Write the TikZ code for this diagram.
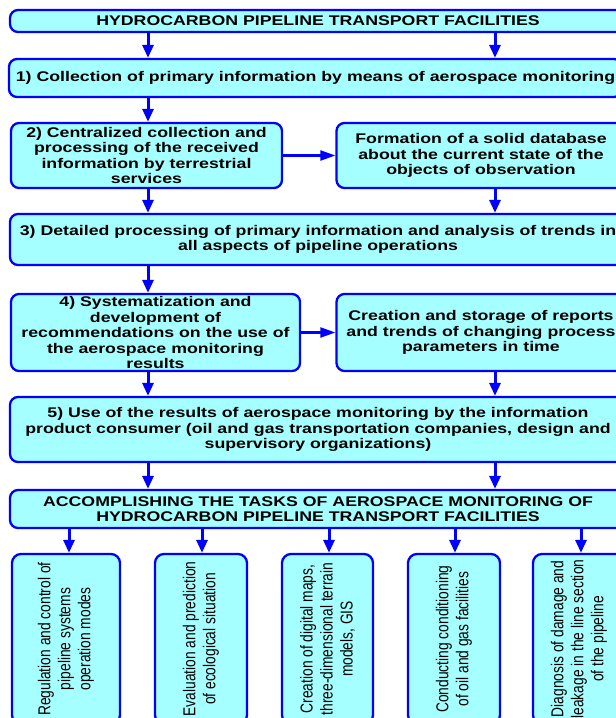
\documentclass[tikz,border=0pt]{standalone}
\usepackage{fontspec}
\setmainfont{Liberation Sans}
\newfontfamily\boxfont{Liberation Sans Bold}[FakeStretch=1.267]
\newfontfamily\rotfont{Liberation Sans}[FakeStretch=0.8]
\usetikzlibrary{arrows.meta}
\definecolor{boxfill}{RGB}{166,255,255}
\definecolor{boxline}{RGB}{0,0,255}
\tikzset{
  box/.style={draw=boxline, fill=boxfill, line width=2.3pt, rounded corners=8pt,
    inner sep=0pt, align=center, text=black,
    font=\boxfont\fontsize{14}{15.5}\selectfont},
  rotbox/.style={draw=boxline, fill=boxfill, line width=2.3pt, rounded corners=9pt,
    inner sep=0pt, align=center, text=black, rotate=90,
    font=\rotfont\fontsize{17.25}{20}\selectfont},
  varr/.style={draw=boxline, line width=3pt, -{Triangle[length=13pt,width=11pt]}},
  harr/.style={draw=boxline, line width=2.2pt, -{Triangle[length=15pt,width=10pt]}}
}
\begin{document}
\begin{tikzpicture}[x=1pt,y=-1pt]
\useasboundingbox (0,0) rectangle (616,718);
\clip (0,0) rectangle (616,718);
\coordinate (L) at (148,0);
\coordinate (R) at (495,0);
\coordinate (xa) at (69,0);
\coordinate (xb) at (202,0);
\coordinate (xc) at (329,0);
\coordinate (xd) at (455,0);
\coordinate (xe) at (581,0);

\node[box, minimum width=616pt, minimum height=22pt] (top) at (318,21)
  {HYDROCARBON PIPELINE TRANSPORT FACILITIES};
\node[box, minimum width=613pt, minimum height=38pt] (b1) at (315.5,78)
  {1) Collection of primary information by means of aerospace monitoring};
\node[box, minimum width=271pt, minimum height=65pt] (b2) at (146.5,155.5)
  {2) Centralized collection and\\processing of the received\\information by terrestrial\\services};
\node[box, minimum width=289pt, minimum height=65pt] (f) at (481,155.5)
  {Formation of a solid database\\about the current state of the\\objects of observation};
\node[box, minimum width=616pt, minimum height=51pt] (b3) at (318,239.5)
  {3) Detailed processing of primary information and analysis of trends in\\all aspects of pipeline operations};
\node[box, minimum width=289pt, minimum height=77pt] (b4) at (155.5,332.5)
  {4) Systematization and\\development of\\recommendations on the use of\\the aerospace monitoring\\results};
\node[box, minimum width=289pt, minimum height=77pt] (c) at (481,332.5)
  {Creation and storage of reports\\and trends of changing process\\parameters in time};
\node[box, minimum width=616pt, minimum height=65pt] (b5) at (318,429.5)
  {5) Use of the results of aerospace monitoring by the information\\product consumer (oil and gas transportation companies, design and\\supervisory organizations)};
\node[box, minimum width=616pt, minimum height=38pt] (acc) at (318,509)
  {ACCOMPLISHING THE TASKS OF AEROSPACE MONITORING OF\\HYDROCARBON PIPELINE TRANSPORT FACILITIES};

\node[rotbox, minimum width=170pt, minimum height=108pt] (A) at (66,639)
  {Regulation and control of\\pipeline systems\\operation modes};
\node[rotbox, minimum width=170pt, minimum height=92pt] (B) at (201,639)
  {Evaluation and prediction\\of ecological situation};
\node[rotbox, minimum width=170pt, minimum height=91pt] (C) at (327.5,639)
  {Creation of digital maps,\\three-dimensional terrain\\models, GIS};
\node[rotbox, minimum width=170pt, minimum height=92pt] (D) at (454,639)
  {Conducting conditioning\\of oil and gas facilities};
\node[rotbox, minimum width=170pt, minimum height=92pt] (E) at (579,639)
  {Diagnosis of damage and\\leakage in the line section\\of the pipeline};

\draw[varr] (top.south -| L) -- (b1.north -| L);
\draw[varr] (top.south -| R) -- (b1.north -| R);
\draw[varr] (b1.south -| L) -- (b2.north -| L);
\draw[harr] (b2.east) -- (f.west);
\draw[varr] (b2.south -| L) -- (b3.north -| L);
\draw[varr] (f.south -| R) -- (b3.north -| R);
\draw[varr] (b3.south -| L) -- (b4.north -| L);
\draw[harr] (b4.east) -- (c.west);
\draw[varr] (b4.south -| L) -- (b5.north -| L);
\draw[varr] (c.south -| R) -- (b5.north -| R);
\draw[varr] (b5.south -| L) -- (acc.north -| L);
\draw[varr] (b5.south -| R) -- (acc.north -| R);
\draw[varr] (acc.south -| xa) -- (A.east -| xa);
\draw[varr] (acc.south -| xb) -- (B.east -| xb);
\draw[varr] (acc.south -| xc) -- (C.east -| xc);
\draw[varr] (acc.south -| xd) -- (D.east -| xd);
\draw[varr] (acc.south -| xe) -- (E.east -| xe);
\end{tikzpicture}
\end{document}
